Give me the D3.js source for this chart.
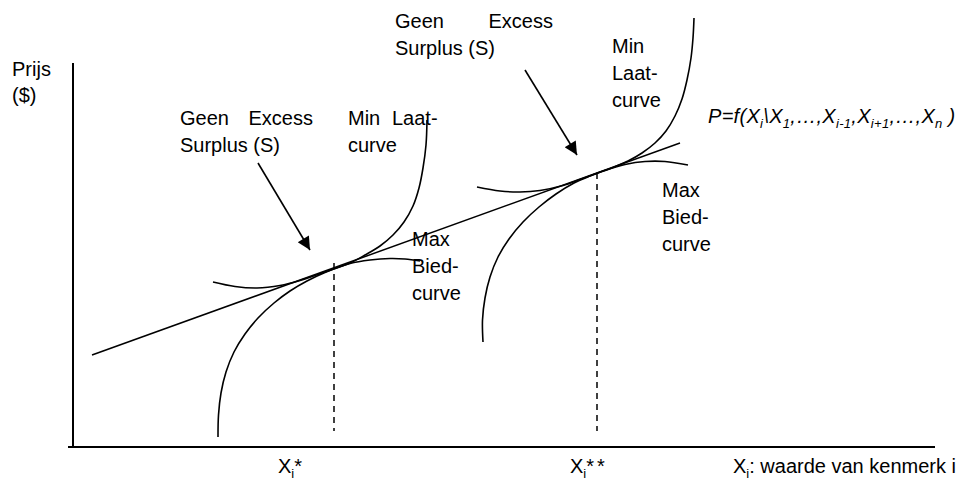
<!DOCTYPE html>
<html>
<head>
<meta charset="utf-8">
<script src="https://cdn.jsdelivr.net/npm/d3@7"></script>
<style>
  body { margin: 0; background: #fff; }
  text { font-family: "Liberation Sans", Arial, sans-serif; font-size: 20px; fill: #000; }
</style>
</head>
<body>
<div id="chart"></div>
<script>
// chart units: x = characteristic X_i, y = price (both arbitrary, origin at the axes)
const priceLine = [[19, 92], [607, 304]];

// first optimum: convex offer curve (Min Laat) and concave bid curve (Max Bied)
const minLaat1 = [[140, 165], [162, 160.5], [184, 159], [207, 161.5], [227, 166.5], [252, 175], [277, 184],
                  [292, 192], [307, 201], [320, 212], [331, 225], [340, 241], [346, 259], [350, 279],
                  [353, 302], [354, 327]];
const maxBied1 = [[145, 10], [145.5, 32], [148, 54], [153, 75], [161, 95], [172, 113], [185, 129],
                  [201, 144], [217, 156], [234, 166], [252, 174.5], [277, 183.5], [297, 187],
                  [317, 188.5], [332, 188], [347, 186]];

// second optimum
const minLaat2 = [[404, 260], [427, 256], [447, 255], [467, 256.5], [490, 261.5], [507, 267.5], [525, 274],
                  [540, 279.5], [555, 286], [569, 294], [582, 304], [593, 316], [602, 331], [609, 348],
                  [614, 367], [618, 389], [620, 409], [621, 429]];
const maxBied2 = [[410, 105], [409.5, 127], [412, 149], [417, 170], [425, 190], [436, 208], [450, 225],
                  [466, 240], [483, 253], [501, 264], [517, 271], [533, 277], [552, 282.5], [572, 285.5],
                  [592, 285.5], [615, 282]];

const optima = [261, 524];        // X_i*, X_i**
const optimaTop = [184, 274];     // where the dashed guide meets the price line
const tickStars = ["*", "**"];

const width = 960, height = 490;

const svg = d3.select("#chart")
  .append("svg")
    .attr("width", width)
    .attr("height", height);

const x = d3.scaleLinear().domain([0, 862]).range([73, 935]);
const y = d3.scaleLinear().domain([0, 384]).range([447, 63]);

const smooth = d3.line()
  .x(d => x(d[0]))
  .y(d => y(d[1]))
  .curve(d3.curveCatmullRom.alpha(0.5));
const straight = d3.line().x(d => x(d[0])).y(d => y(d[1]));

svg.append("defs").append("marker")
    .attr("id", "head")
    .attr("viewBox", "0 0 10 10")
    .attr("refX", 10).attr("refY", 5)
    .attr("markerUnits", "userSpaceOnUse")
    .attr("markerWidth", 15).attr("markerHeight", 13)
    .attr("orient", "auto")
  .append("path")
    .attr("d", "M0,0L10,5L0,10z")
    .attr("fill", "#000");

/// axes
svg.append("line")
  .attr("x1", x(-5)).attr("x2", x(862))
  .attr("y1", y(0)).attr("y2", y(0))
  .attr("stroke", "#000").attr("stroke-width", 2);
svg.append("line")
  .attr("x1", x(0)).attr("x2", x(0))
  .attr("y1", y(0)).attr("y2", y(384))
  .attr("stroke", "#000").attr("stroke-width", 2);

/// dashed guides at the optima
svg.selectAll(".guide")
  .data(optima)
  .join("line")
    .attr("class", "guide")
    .attr("x1", d => x(d)).attr("x2", d => x(d))
    .attr("y1", (d, i) => y(optimaTop[i])).attr("y2", y(16))
    .attr("stroke", "#000").attr("stroke-width", 1.5)
    .attr("stroke-dasharray", "6,5");

/// price function and curves
svg.append("path").attr("d", straight(priceLine))
  .attr("fill", "none").attr("stroke", "#000").attr("stroke-width", 1.5);

svg.selectAll(".curve")
  .data([minLaat1, maxBied1, minLaat2, maxBied2])
  .join("path")
    .attr("class", "curve")
    .attr("d", smooth)
    .attr("fill", "none")
    .attr("stroke", "#000")
    .attr("stroke-width", 1.6);

/// arrows pointing at the tangency
const arrows = [[[185, 284], [237, 197]], [[452, 377], [504, 292]]];
svg.selectAll(".arrow")
  .data(arrows)
  .join("line")
    .attr("class", "arrow")
    .attr("x1", d => x(d[0][0])).attr("y1", d => y(d[0][1]))
    .attr("x2", d => x(d[1][0])).attr("y2", d => y(d[1][1]))
    .attr("stroke", "#000").attr("stroke-width", 1.6)
    .attr("marker-end", "url(#head)");

/// text
function label(px, py, lines, step) {
  lines.forEach((l, i) => {
    svg.append("text").attr("x", px).attr("y", py + i * step).text(l);
  });
}

// text with subscripts: parts are strings or {sub: "..."}
function rich(px, py, parts, italic) {
  const t = svg.append("text").attr("x", px).attr("y", py);
  if (italic) t.style("font-style", "italic");
  let low = false;
  parts.forEach(p => {
    const isSub = typeof p !== "string";
    const s = t.append("tspan").text(isSub ? p.sub : p);
    if (isSub) s.style("font-size", "13px");
    if (isSub && !low) s.attr("dy", 5);
    if (!isSub && low) s.attr("dy", -5);
    low = isSub;
  });
  return t;
}

label(12, 76, ["Prijs", "($)"], 26);

// left annotations
svg.append("text").attr("x", 180).attr("y", 125).text("Geen");
svg.append("text").attr("x", 313).attr("y", 125).attr("text-anchor", "end").text("Excess");
svg.append("text").attr("x", 180).attr("y", 152).text("Surplus (S)");
svg.append("text").attr("x", 348).attr("y", 125).text("Min");
svg.append("text").attr("x", 392).attr("y", 125).text("Laat-");
svg.append("text").attr("x", 348).attr("y", 152).text("curve");
label(412, 246, ["Max", "Bied-", "curve"], 27);

// right annotations
svg.append("text").attr("x", 395).attr("y", 28).text("Geen");
svg.append("text").attr("x", 553).attr("y", 28).attr("text-anchor", "end").text("Excess");
svg.append("text").attr("x", 395).attr("y", 55).text("Surplus (S)");
label(612, 53, ["Min", "Laat-", "curve"], 27);
label(662, 197, ["Max", "Bied-", "curve"], 27);

rich(708, 123, ["P=f(X", {sub: "i"}, "\\X", {sub: "1"}, ",…,X", {sub: "i-1"}, ",X", {sub: "i+1"},
                ",…,X", {sub: "n"}, " )"], true)
  .attr("letter-spacing", 0.3);

// x axis labels
const tickX = [278, 570];
tickStars.forEach((s, i) => {
  const t = rich(tickX[i], 473, ["X", {sub: "i"}, s]);
  t.selectAll("tspan").filter((d, j) => j === 2).attr("letter-spacing", 3);
});
rich(733, 473, ["X", {sub: "i"}, ": waarde van kenmerk i"]);
</script>
</body>
</html>
